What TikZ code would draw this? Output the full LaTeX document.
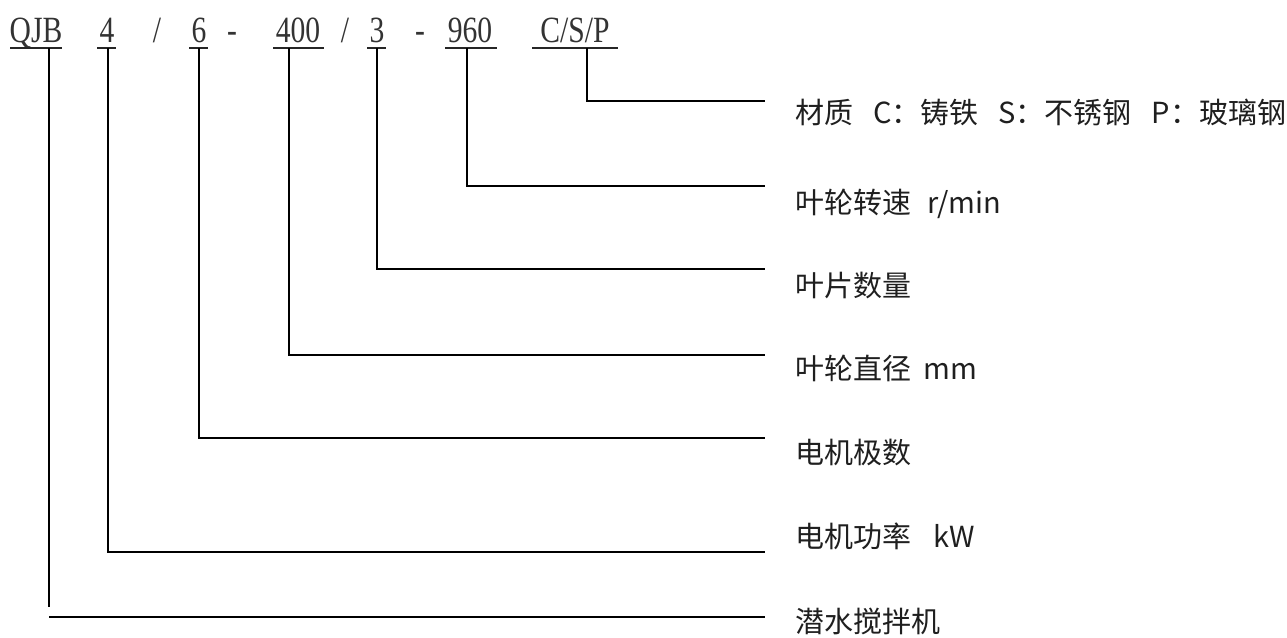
\documentclass[tikz,border=0pt]{standalone}
\usepackage{graphicx}
\usepackage{fontspec}
\setmainfont{Liberation Serif}
\newfontfamily\cjk{Noto Sans CJK SC}
\newcommand\cdtxt[1]{\scalebox{0.8}[1]{#1}}
\begin{document}
\begin{tikzpicture}[x=1pt,y=-1pt,
  code/.style={font=\fontsize{37}{37}\selectfont, inner sep=0pt, anchor=base, text=black!80},
  lbl/.style={font=\cjk\fontsize{29}{29}\selectfont, inner sep=0pt, anchor=base west, text=black!88},
  conn/.style={line width=2.8pt, line join=miter},
  uline/.style={line width=1.8pt, black!85}]
\useasboundingbox (0,0) rectangle (1287,637);

% code tokens
\node[code] (qjb) at (36,42) {\cdtxt{QJB}};
\node[code] (n4) at (107,42) {\cdtxt{4}};
\node[code] (s1) at (157,42) {\cdtxt{/}};
\node[code] (n6) at (199,42) {\cdtxt{6}};
\node[code] (d1) at (232,42) {\cdtxt{-}};
\node[code] (n400) at (298,42) {\cdtxt{400}};
\node[code] (s2) at (345,42) {\cdtxt{/}};
\node[code] (n3) at (377,42) {\cdtxt{3}};
\node[code] (d2) at (420,42) {\cdtxt{-}};
\node[code] (n960) at (470,42) {\cdtxt{960}};
\node[code] (csp) at (575,42) {\cdtxt{C/S/P}};

% underlines
\coordinate (uq1) at (10,48);  \coordinate (uq2) at (62,48);
\coordinate (u41) at (97,48);  \coordinate (u42) at (116,48);
\coordinate (u61) at (189,48); \coordinate (u62) at (208,48);
\coordinate (ua1) at (273,48); \coordinate (ua2) at (324,48);
\coordinate (u31) at (367,48); \coordinate (u32) at (386,48);
\coordinate (ub1) at (445,48); \coordinate (ub2) at (497,48);
\coordinate (uc1) at (532,48); \coordinate (uc2) at (618,48);
\foreach \a/\b in {uq1/uq2,u41/u42,u61/u62,ua1/ua2,u31/u32,ub1/ub2,uc1/uc2}
  \draw[uline] (\a) -- (\b);

% labels
\node[lbl] (l1) at (795,123) {材质\hspace{20pt}C：铸铁\hspace{20pt}S：不锈钢\hspace{20pt}P：玻璃钢};
\node[lbl] (l2) at (795,213) {叶轮转速\hspace{16pt}r/min};
\node[lbl] (l3) at (795,296) {叶片数量};
\node[lbl] (l4) at (795,379) {叶轮直径\hspace{12pt}mm};
\node[lbl] (l5) at (795,463) {电机极数};
\node[lbl] (l6) at (795,547) {电机功率\hspace{22pt}kW};
\node[lbl] (l7) at (795,632) {潜水搅拌机};

% connector tops
\coordinate (tc) at (587,48);
\coordinate (tb) at (467,48);
\coordinate (t3) at (377,48);
\coordinate (ta) at (289,48);
\coordinate (t6) at (199,48);
\coordinate (t4) at (108,48);
\coordinate (tq) at (49,48);
% connector ends
\coordinate (e1) at (765,101);
\coordinate (e2) at (765,186);
\coordinate (e3) at (765,269);
\coordinate (e4) at (765,355);
\coordinate (e5) at (765,438);
\coordinate (e6) at (765,552);
\coordinate (e7) at (765,617);
\coordinate (qb) at (49,607);
\coordinate (qh) at (49,617);

\draw[conn] (tc) |- (e1);
\draw[conn] (tb) |- (e2);
\draw[conn] (t3) |- (e3);
\draw[conn] (ta) |- (e4);
\draw[conn] (t6) |- (e5);
\draw[conn] (t4) |- (e6);
\draw[conn] (tq) -- (qb);
\draw[conn] (qh) -- (e7);
\end{tikzpicture}
\end{document}
